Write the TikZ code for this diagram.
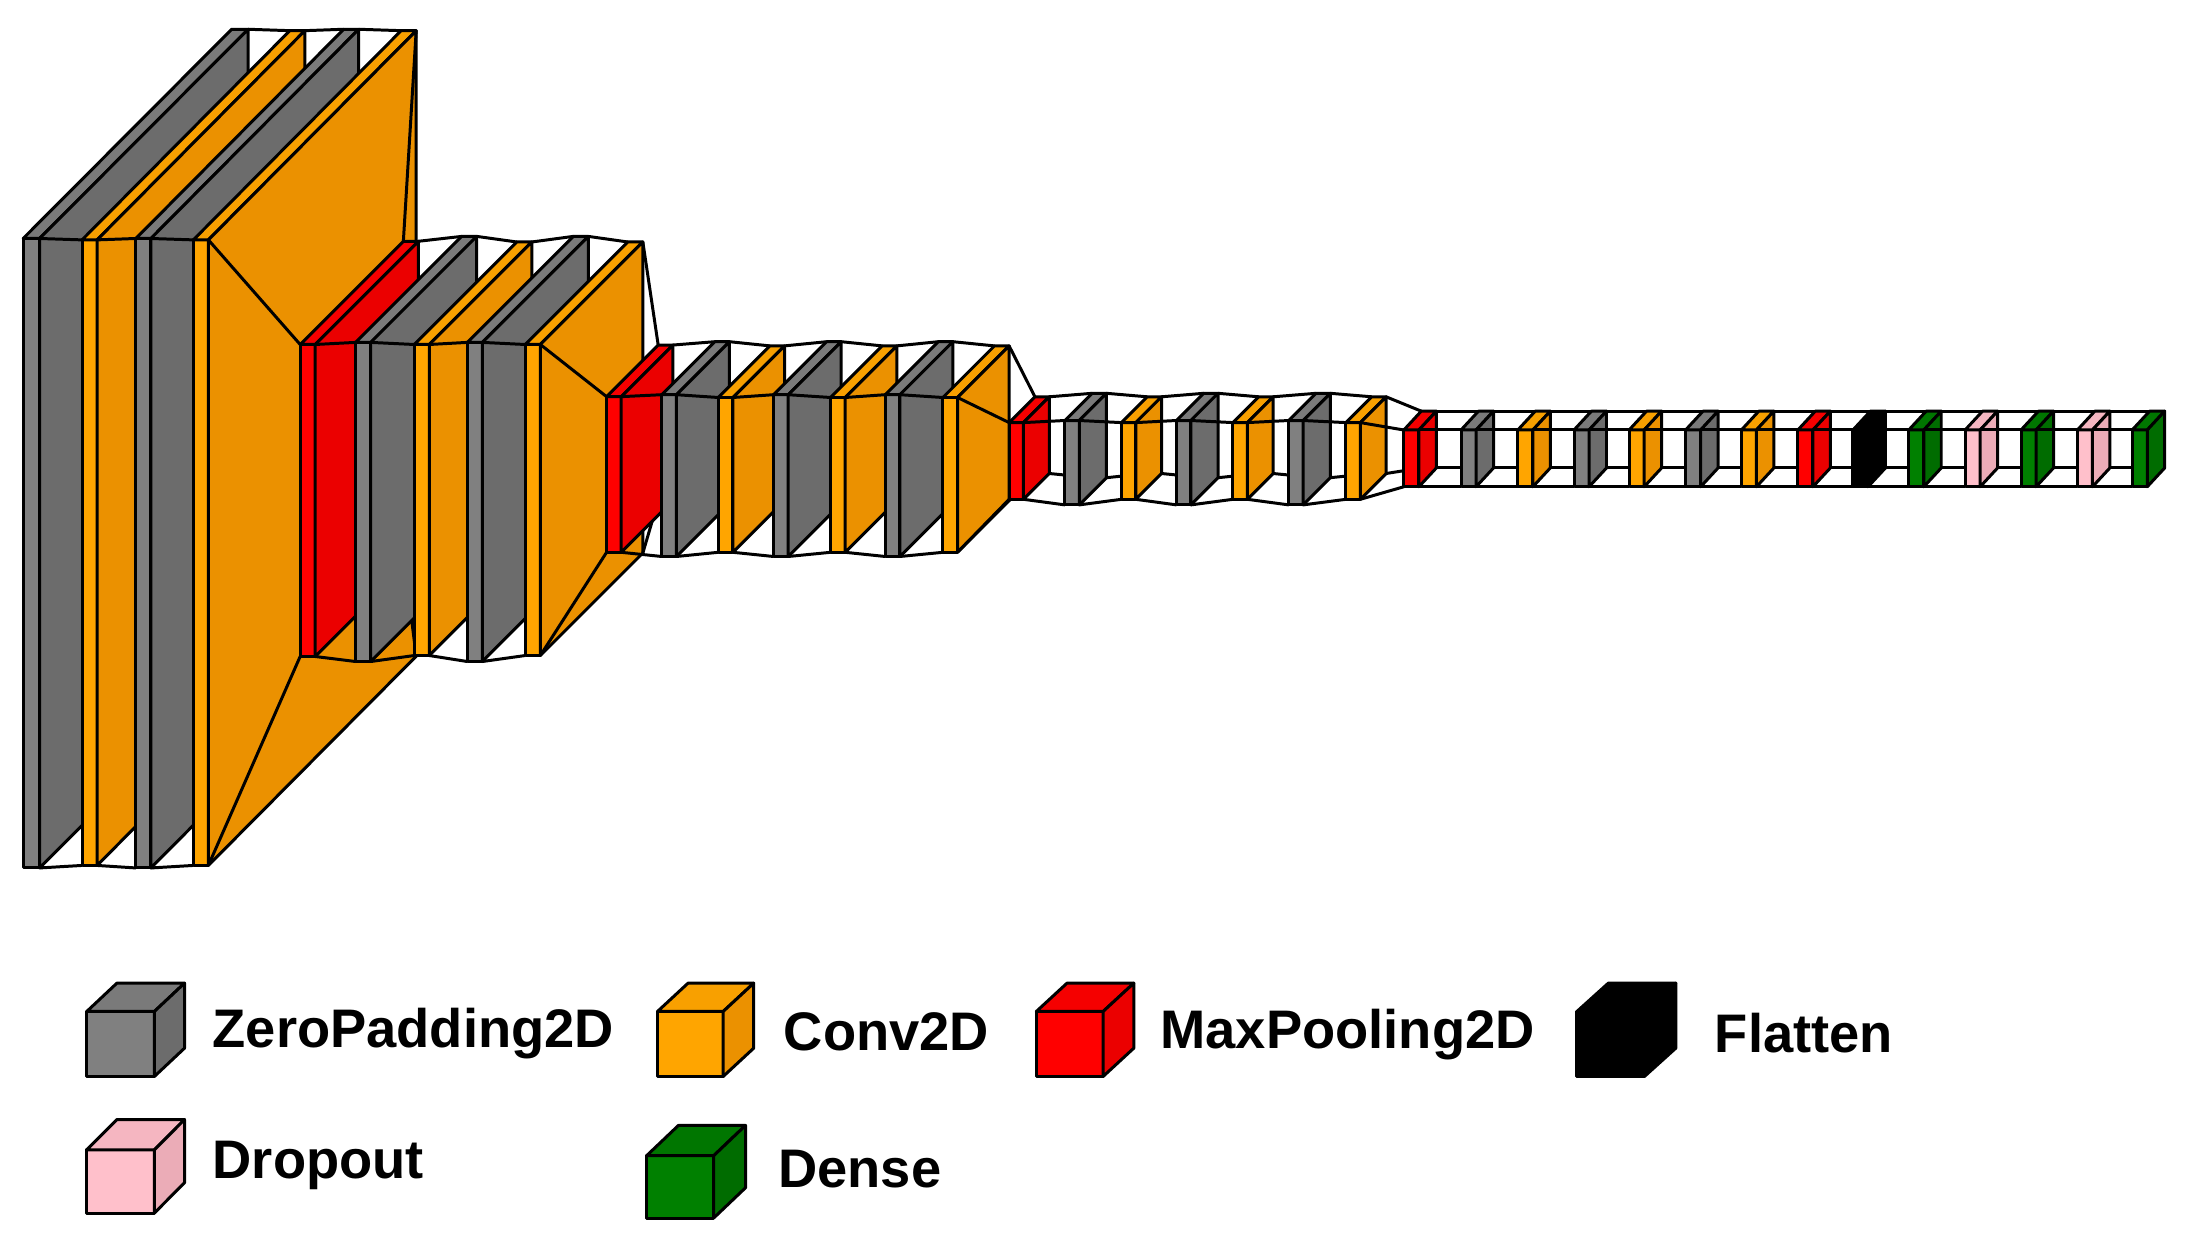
\documentclass[tikz,border=0pt]{standalone}
\usepackage{fontspec}
\setmainfont{Liberation Sans}
\usepackage{xcolor}
\definecolor{cGrayF}{HTML}{808080}
\definecolor{cGrayT}{HTML}{7A7A7A}
\definecolor{cGrayS}{HTML}{6C6C6C}
\definecolor{cConvF}{HTML}{FFA500}
\definecolor{cConvT}{HTML}{F8A000}
\definecolor{cConvS}{HTML}{EB9100}
\definecolor{cPoolF}{HTML}{FF0000}
\definecolor{cPoolT}{HTML}{F50000}
\definecolor{cPoolS}{HTML}{EB0000}
\definecolor{cDenseF}{HTML}{008000}
\definecolor{cDenseT}{HTML}{007600}
\definecolor{cDenseS}{HTML}{006C00}
\definecolor{cDropF}{HTML}{FFC0CB}
\definecolor{cDropT}{HTML}{F5B6C1}
\definecolor{cDropS}{HTML}{EBACB7}
\definecolor{cFlatF}{HTML}{000000}
\definecolor{cFlatT}{HTML}{000000}
\definecolor{cFlatS}{HTML}{000000}
\usepackage{tikz}
\tikzset{
  layer-face/.style={draw=black,line width=0.85pt,line join=round},
  funnel-line/.style={draw=black,line width=0.85pt},
  legend-label/.style={anchor=base west,inner sep=0pt,font=\bfseries\fontsize{15.45}{16}\selectfont},
}
% name, x, top, bottom, width, depth x, depth y
\newcommand{\cubeat}[7]{
  \coordinate (#1-ftl) at (#2,#3);
  \coordinate (#1-ftr) at (#2+#5,#3);
  \coordinate (#1-fbr) at (#2+#5,#4);
  \coordinate (#1-fbl) at (#2,#4);
  \coordinate (#1-btl) at (#2+#6,#3-#7);
  \coordinate (#1-btr) at (#2+#5+#6,#3-#7);
  \coordinate (#1-bbr) at (#2+#5+#6,#4-#7);
  \coordinate (#1-bbl) at (#2+#6,#4-#7);
}
% name, colour
\newcommand{\cubefaces}[2]{
  \filldraw[layer-face,fill=c#2F] (#1-ftl) -- (#1-ftr) -- (#1-fbr) -- (#1-fbl) -- cycle;
  \filldraw[layer-face,fill=c#2T] (#1-ftl) -- (#1-btl) -- (#1-btr) -- (#1-ftr) -- cycle;
  \filldraw[layer-face,fill=c#2S] (#1-ftr) -- (#1-btr) -- (#1-bbr) -- (#1-fbr) -- cycle;
}
\newcommand{\funnel}[2]{
  \draw[funnel-line] (#1-btr) -- (#2-btl);
  \draw[funnel-line] (#1-bbr) -- (#2-bbl);
  \draw[funnel-line] (#1-fbr) -- (#2-fbl);
  \draw[funnel-line] (#1-ftr) -- (#2-ftl);
}
\begin{document}
\begin{tikzpicture}[x=0.013948cm,y=-0.013948cm]
  \useasboundingbox (0,0) rectangle (1568,890.5);
  % first block
  \cubeat{a1}{16.6}{171}{622.3}{11.8}{149.5}{150}
  \cubefaces{a1}{Gray}
  \foreach[remember=\lname as \lprev (initially a1)] \lname/\lx/\lt/\lb/\lc in {
    a2/58.8/172/620.5/Conv,a3/97.4/171/622.3/Gray,a4/138.6/172/620.5/Conv}{
    \cubeat{\lname}{\lx}{\lt}{\lb}{10.8}{149}{150}
    \funnel{\lprev}{\lname}
    \cubefaces{\lname}{\lc}
  }
  % second block
  \foreach[remember=\lname as \lprev (initially a4)] \lname/\lx/\lt/\lb/\ld/\lc in {
    b1/215.2/247/470.7/74/Pool,b2/255/245.5/474.3/76/Gray,b3/297/247/470/73.5/Conv,
    b4/335/245.5/474.3/76/Gray,b5/376.6/247/470/73.5/Conv}{
    \cubeat{\lname}{\lx}{\lt}{\lb}{10.8}{\ld}{\ld}
    \funnel{\lprev}{\lname}
    \cubefaces{\lname}{\lc}
  }
  % third block
  \foreach[remember=\lname as \lprev (initially b5)] \lname/\lx/\lt/\lb/\ld/\lc in {
    c1/434.9/284.4/396/37/Pool,c2/474.5/283/399/38/Gray,c3/515/285/396/37/Conv,
    c4/554.6/283/399/38/Gray,c5/595.5/285/396/37/Conv,c6/634.7/283/399/38/Gray,
    c7/676/285/396/37/Conv}{
    \cubeat{\lname}{\lx}{\lt}{\lb}{10.5}{\ld}{\ld}
    \funnel{\lprev}{\lname}
    \cubefaces{\lname}{\lc}
  }
  % fourth block
  \foreach[remember=\lname as \lprev (initially c7)] \lname/\lx/\lt/\lb/\ld/\lc in {
    d1/723.5/303/358/18.5/Pool,d2/763.5/301.5/362/19.5/Gray,d3/804/303/358/18.5/Conv,
    d4/843.5/301.5/362/19.5/Gray,d5/884/303/358/18.5/Conv,d6/924/301.5/362/19.5/Gray,
    d7/965/303/358/18.5/Conv}{
    \cubeat{\lname}{\lx}{\lt}{\lb}{10.3}{\ld}{\ld}
    \funnel{\lprev}{\lname}
    \cubefaces{\lname}{\lc}
  }
  % last row, all the same height
  \foreach[remember=\lname as \lprev (initially d7)] \lname/\lx/\lc in {
    e1/1006.5/Pool,e2/1047.5/Gray,e3/1088.2/Conv,e4/1128.5/Gray,e5/1168/Conv,
    e6/1208.5/Gray,e7/1248.5/Conv,e8/1289/Pool,e9/1328.5/Flat,e10/1368.5/Dense,
    e11/1408.9/Drop,e12/1449/Dense,e13/1489.4/Drop,e14/1528.7/Dense}{
    \cubeat{\lname}{\lx}{308.3}{349}{10.8}{12.5}{13.5}
    \funnel{\lprev}{\lname}
    \cubefaces{\lname}{\lc}
  }
  % legend
  \cubeat{lgZero}{62.2}{725.2}{771.8}{48.5}{21.6}{20.3}
  \cubefaces{lgZero}{Gray}
  \cubeat{lgConv}{471.4}{725.2}{771.8}{47.1}{21.9}{20.3}
  \cubefaces{lgConv}{Conv}
  \cubeat{lgPool}{743}{725.2}{771.8}{47.9}{22}{20.3}
  \cubefaces{lgPool}{Pool}
  \cubeat{lgFlat}{1130.6}{725.2}{771.8}{48.4}{22.5}{20.3}
  \cubefaces{lgFlat}{Flat}
  \cubeat{lgDrop}{62.2}{824.4}{869.7}{48.5}{21.6}{21.7}
  \cubefaces{lgDrop}{Drop}
  \cubeat{lgDense}{463.6}{828.6}{873.3}{48.1}{22.8}{21.7}
  \cubefaces{lgDense}{Dense}
  \node[legend-label] (txZero) at (152,751.3) {ZeroPadding2D};
  \node[legend-label] (txConv) at (561.5,753.5) {Conv2D};
  \node[legend-label] (txPool) at (831.5,752) {MaxPooling2D};
  \node[legend-label] (txFlat) at (1229,754.4) {Flatten};
  \node[legend-label] (txDrop) at (152,845.1) {Dropout};
  \node[legend-label] (txDense) at (557.5,851.2) {Dense};
\end{tikzpicture}
\end{document}
